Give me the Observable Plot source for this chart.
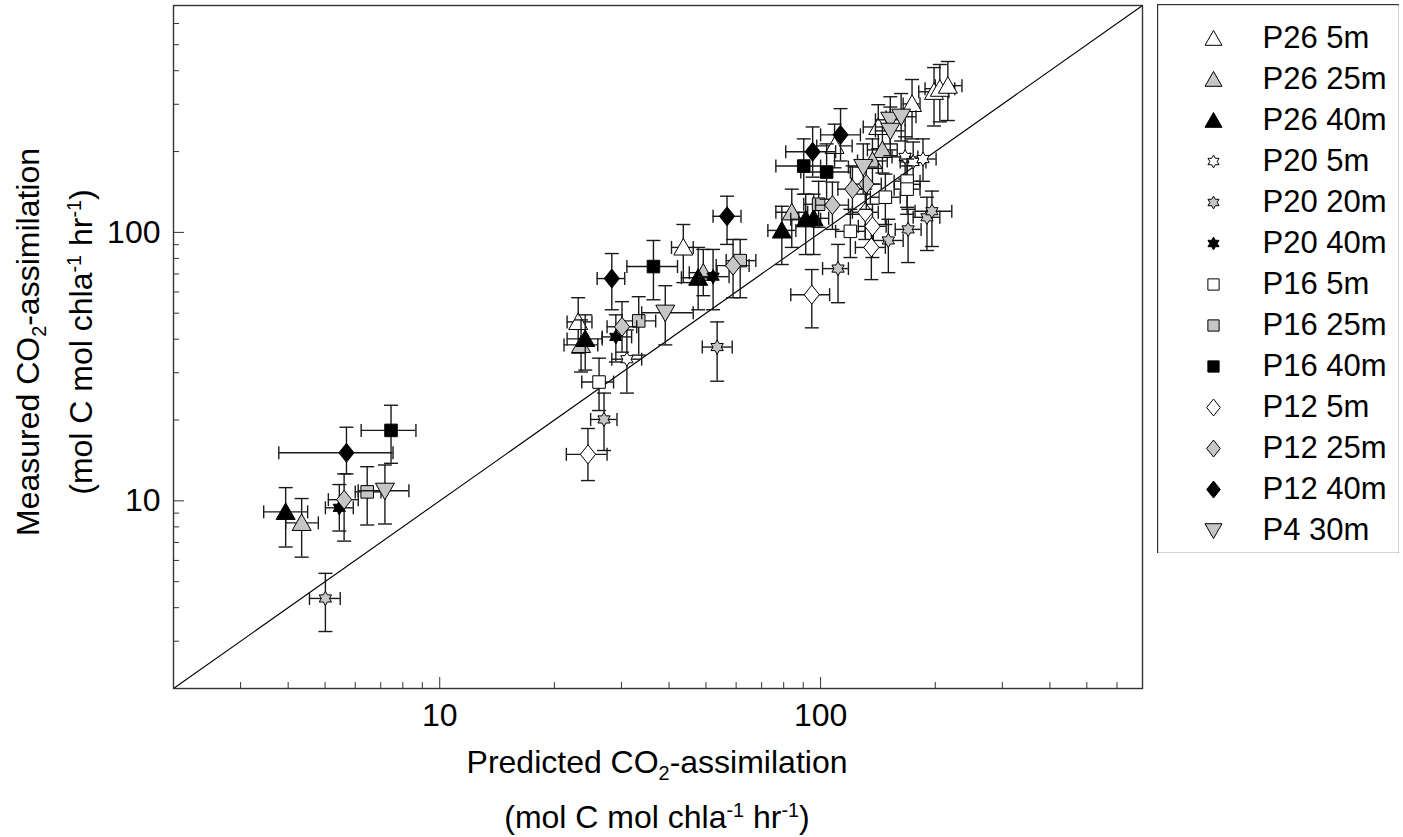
<!DOCTYPE html>
<html><head><meta charset="utf-8">
<script src="https://cdn.jsdelivr.net/npm/d3@7"></script>
<script src="https://cdn.jsdelivr.net/npm/@observablehq/plot@0.6"></script>
<style>
body{margin:0;background:#fff;font-family:"Liberation Sans",Arial,Helvetica,sans-serif;}
#wrap{position:relative;width:1403px;height:837px;overflow:hidden;background:#fff;}
#wrap svg{position:absolute;}
.ttl{position:absolute;color:#000;white-space:nowrap;line-height:1;}
.ttl sub,.ttl sup{font-size:62%;}
</style></head><body><div id="wrap"></div>
<script>
// rows: [predicted, measured, predicted low, predicted high, measured low, measured high]
const P26_5m = [
 [23.1, 46.4, 21.6, 25.1, 35.5, 57.1],
 [43.6, 87.9, 40.6, 46.3, 65.0, 107],
 [108.8, 210, 97.7, 121, 174, 253],
 [141.7, 247, 129.4, 155, 205, 299],
 [173.8, 301, 164.7, 182.4, 223, 371],
 [198.5, 334, 181, 217, 249, 411],
 [205.6, 343, 188, 225, 258, 422],
 [215.8, 352, 200, 235, 261, 433]
];
const P26_25m = [
 [4.34, 8.28, 3.94, 4.80, 6.17, 10.2],
 [23.5, 38.1, 21.2, 26.0, 30.2, 47.2],
 [49.2, 70.8, 45.2, 53.5, 58.1, 86.4],
 [84.0, 118.8, 76.3, 92.5, 87.9, 144.9],
 [145.3, 202.9, 132.7, 158.9, 166.4, 247],
 [136.8, 184.5, 125, 149.6, 151.3, 223]
];
const P26_40m = [
 [3.94, 9.10, 3.45, 4.5, 6.73, 11.2],
 [24.1, 40.1, 21.6, 26.7, 30.7, 49.3],
 [47.7, 67.8, 43.1, 52.2, 51.5, 87.9],
 [79.1, 101.7, 72.7, 86.1, 75.9, 125.1],
 [91.4, 111.9, 83.5, 100, 82.7, 138.8],
 [95.9, 112.8, 87.6, 105, 82.7, 138.8]
];
const P20_5m = [
 [31.0, 33.7, 28.3, 33.9, 25.2, 43.3],
 [166.7, 191, 154, 180, 158, 227],
 [175, 182.9, 161.8, 189, 151, 217],
 [185.7, 187.6, 171.8, 201, 155, 223]
];
const P20_20m = [
 [5.01, 4.33, 4.55, 5.48, 3.26, 5.37],
 [27.0, 20.1, 24.9, 29.2, 15.4, 25.2],
 [53.5, 37.4, 48.9, 58.6, 27.9, 46.4],
 [111.1, 73.3, 101.2, 118.3, 54.7, 90.2],
 [150.6, 93.3, 137.5, 164.7, 70.8, 111.9],
 [169.7, 102.6, 157, 183.6, 77.2, 121.9],
 [190.2, 113.8, 175, 205.6, 85.6, 135.2],
 [196, 119.9, 177, 221, 88.6, 142.5]
];
const P20_40m = [
 [5.45, 9.42, 5.01, 5.93, 7.72, 11.5],
 [29.0, 40.8, 26.7, 31.9, 32.9, 49.3],
 [52.2, 68.4, 48.0, 57.5, 51.5, 86.4]
];
const P16_5m = [
 [26.2, 27.7, 23.6, 28.6, 21.7, 34.0],
 [147.9, 135.2, 135.1, 161.8, 107, 164.8],
 [168.7, 155.2, 156, 182.4, 124, 187.6],
 [168.7, 144.9, 156, 182.4, 116.8, 176.8],
 [119.7, 100.9, 109.5, 131, 80.6, 121.9]
];
const P16_25m = [
 [6.45, 10.8, 6.0, 7.01, 8.13, 13.4],
 [33.3, 46.8, 30.1, 36.9, 34.9, 57.6],
 [61.5, 78.5, 56.5, 67.6, 57.1, 94.1],
 [98.8, 127.3, 90.3, 108, 104.4, 155]
];
const P16_40m = [
 [7.45, 18.3, 6.22, 8.66, 13.8, 22.7],
 [36.4, 74.6, 31.0, 42.1, 56.1, 93.3],
 [90.3, 176.6, 76.3, 100, 138.8, 223],
 [103.7, 167.8, 88.7, 119.7, 132.9, 213.6]
];
const P12_5m = [
 [24.5, 14.9, 21.5, 27.5, 11.9, 18.6],
 [94.8, 58.6, 83.5, 105.6, 44.1, 72.7],
 [131, 118.8, 121.2, 141.7, 94.1, 144.9],
 [136.8, 105.3, 125.6, 148.6, 80.6, 127.3],
 [135.9, 87.9, 123.4, 147.9, 66.7, 107]
];
const P12_25m = [
 [5.61, 10.1, 5.10, 6.11, 7.08, 12.6],
 [30.1, 44.5, 27.5, 32.9, 35.8, 55.2],
 [58.9, 75.2, 53.2, 64.9, 57.1, 94.1],
 [107.4, 126.3, 97.0, 118.3, 102.6, 153.9],
 [121.2, 144.9, 111, 132.7, 116.8, 176.8],
 [131.8, 151.3, 120.5, 144.3, 121.9, 184.5]
];
const P12_40m = [
 [5.69, 15.1, 3.78, 7.54, 12.6, 18.8],
 [28.3, 67.3, 25.9, 30.6, 51.5, 83.4],
 [56.8, 114.8, 52.2, 61.8, 90.2, 136.4],
 [95.3, 199.7, 81.0, 109.5, 160.6, 247],
 [112.8, 230.8, 100, 127.2, 184.5, 289]
];
const P4_30m = [
 [7.18, 10.9, 6.11, 8.30, 8.2, 13.6],
 [39.1, 50.2, 33.9, 46.3, 38.1, 63.3],
 [129.4, 175.1, 118.3, 141.7, 138.8, 213.6],
 [152.4, 262.6, 139.3, 166.7, 213.6, 320],
 [162.7, 269.6, 148.6, 178, 219, 329],
 [152.4, 238.9, 139.3, 166.7, 193, 293]
];

const seriesNames = ["P26 5m","P26 25m","P26 40m","P20 5m","P20 20m","P20 40m","P16 5m","P16 25m","P16 40m","P12 5m","P12 25m","P12 40m","P4 30m"];
const seriesData = [P26_5m,P26_25m,P26_40m,P20_5m,P20_20m,P20_40m,P16_5m,P16_25m,P16_40m,P12_5m,P12_25m,P12_40m,P4_30m];
const seriesShape = ["triUp","triUp","triUp","hexa","hexa","hexa","square","square","square","diamond","diamond","diamond","triDown"];
const seriesFill = ["#fff","#c6c6c6","#000","#fff","#c6c6c6","#000","#fff","#c6c6c6","#000","#fff","#c6c6c6","#000","#c6c6c6"];

const axisDomain = [2, 700];
const oneToOne = [2, 700];
const majorTicks = [10, 100];
const minorTicks = [2,3,4,5,6,7,8,9,20,30,40,50,60,70,80,90,200,300,400,500,600,700];

function mk(fn){ return {draw(ctx, size){ const r = Math.sqrt(size/Math.PI); fn(ctx, r); }}; }
const SYM = {
  triUp: mk((c,r)=>{c.moveTo(0,-0.95*r); c.lineTo(r,0.8*r); c.lineTo(-r,0.8*r); c.closePath();}),
  triDown: mk((c,r)=>{c.moveTo(0,0.95*r); c.lineTo(r,-0.8*r); c.lineTo(-r,-0.8*r); c.closePath();}),
  square: mk((c,r)=>{const s=0.66*r; c.moveTo(-s,-s); c.lineTo(s,-s); c.lineTo(s,s); c.lineTo(-s,s); c.closePath();}),
  diamond: mk((c,r)=>{c.moveTo(0,-r); c.lineTo(0.8*r,0); c.lineTo(0,r); c.lineTo(-0.8*r,0); c.closePath();}),
  hexa: mk((c,r)=>{const R=0.75*r, ri=R/Math.sqrt(3); for(let i=0;i<12;i++){const a=-Math.PI/2+i*Math.PI/6; const rr=(i%2)?ri:R; const x=rr*Math.cos(a), y=rr*Math.sin(a); if(i) c.lineTo(x,y); else c.moveTo(x,y);} c.closePath();}),
  hcap: mk((c,r)=>{c.moveTo(-r,0); c.lineTo(r,0);}),
  vcap: mk((c,r)=>{c.moveTo(0,-r); c.lineTo(0,r);})
};

const W = 1150, H = 740, mL = 173, mR = 8, mT = 5, mB = 52;
const plotW = W - mL - mR, plotH = H - mT - mB;
const BAR = "#1a1a1a", BW = 1.4;
const FONT = "Liberation Sans, Arial, Helvetica, sans-serif";

const marks = [
  Plot.line(oneToOne, {x: d => d, y: d => d, stroke: "#000", strokeWidth: 1.1})
];
seriesNames.forEach((name, i) => {
  const d = seriesData[i].map(([x,y,xlo,xhi,ylo,yhi]) => ({name,x,y,xlo,xhi,ylo,yhi}));
  marks.push(
    Plot.ruleX(d, {x: "x", y1: "ylo", y2: "yhi", stroke: BAR, strokeWidth: BW}),
    Plot.ruleY(d, {y: "y", x1: "xlo", x2: "xhi", stroke: BAR, strokeWidth: BW}),
    Plot.dot(d, {x: "x", y: "ylo", symbol: SYM.hcap, r: 7, fill: "none", stroke: BAR, strokeWidth: BW}),
    Plot.dot(d, {x: "x", y: "yhi", symbol: SYM.hcap, r: 7, fill: "none", stroke: BAR, strokeWidth: BW}),
    Plot.dot(d, {x: "xlo", y: "y", symbol: SYM.vcap, r: 6.5, fill: "none", stroke: BAR, strokeWidth: BW}),
    Plot.dot(d, {x: "xhi", y: "y", symbol: SYM.vcap, r: 6.5, fill: "none", stroke: BAR, strokeWidth: BW}),
    Plot.dot(d, {x: "x", y: "y", symbol: SYM[seriesShape[i]], r: 9.5, fill: seriesFill[i], stroke: "#000", strokeWidth: 1})
  );
});
marks.push(
  Plot.tickX(minorTicks, {x: d => d, insetTop: plotH - 6, stroke: "#333", strokeWidth: 1}),
  Plot.tickX(majorTicks, {x: d => d, insetTop: plotH - 11, stroke: "#333", strokeWidth: 1}),
  Plot.tickY(minorTicks, {y: d => d, insetRight: plotW - 6, stroke: "#333", strokeWidth: 1}),
  Plot.tickY(majorTicks, {y: d => d, insetRight: plotW - 11, stroke: "#333", strokeWidth: 1}),
  Plot.axisX(majorTicks, {tickSize: 0, tickPadding: 15, fontSize: 32, tickFormat: d => String(d), fontFamily: FONT}),
  Plot.axisY(majorTicks, {tickSize: 0, tickPadding: 13, fontSize: 32, tickFormat: d => String(d), fontFamily: FONT}),
  Plot.frame({stroke: "#333", strokeWidth: 1.4})
);

const chart = Plot.plot({
  width: W, height: H,
  marginLeft: mL, marginRight: mR, marginTop: mT, marginBottom: mB,
  x: {type: "log", domain: axisDomain},
  y: {type: "log", domain: axisDomain},
  style: {fontFamily: FONT, color: "#000", background: "transparent", overflow: "visible"},
  marks
});
chart.style.left = "0px"; chart.style.top = "0px";

const legend = Plot.plot({
  width: 242, height: 549, margin: 0,
  x: {domain: [0, 1], axis: null},
  y: {type: "point", domain: seriesNames, range: [33, 526], padding: 0, axis: null},
  style: {fontFamily: FONT, color: "#000", background: "#fff"},
  marks: [
    Plot.frame({stroke: "#333", strokeWidth: 1.4}),
    ...seriesNames.map((n, i) => Plot.dot([n], {y: d => d, frameAnchor: "left", dx: 56, symbol: SYM[seriesShape[i]], r: 8.5, fill: seriesFill[i], stroke: "#000", strokeWidth: 1})),
    Plot.text(seriesNames, {y: d => d, frameAnchor: "left", dx: 105, text: d => d, textAnchor: "start", fontSize: 31, fontFamily: FONT})
  ]
});
legend.style.left = "1157px"; legend.style.top = "4px";

const wrap = document.getElementById("wrap");
wrap.appendChild(chart);
wrap.appendChild(legend);

const titles = [
  {html: "Predicted CO<sub>2</sub>-assimilation", x: 657, y: 765, rot: 0, size: 32},
  {html: "(mol C mol chla<sup>-1</sup> hr<sup>-1</sup>)", x: 657, y: 817, rot: 0, size: 32},
  {html: "Measured CO<sub>2</sub>-assimilation", x: 31, y: 342, rot: -90, size: 32},
  {html: "(mol C mol chla<sup>-1</sup> hr<sup>-1</sup>)", x: 81, y: 342, rot: -90, size: 32}
];
titles.forEach(t => {
  const el = document.createElement("div");
  el.className = "ttl";
  el.innerHTML = t.html;
  el.style.fontSize = t.size + "px";
  el.style.left = t.x + "px"; el.style.top = t.y + "px";
  el.style.transform = `translate(-50%,-50%) rotate(${t.rot}deg)`;
  wrap.appendChild(el);
});
</script></body></html>
